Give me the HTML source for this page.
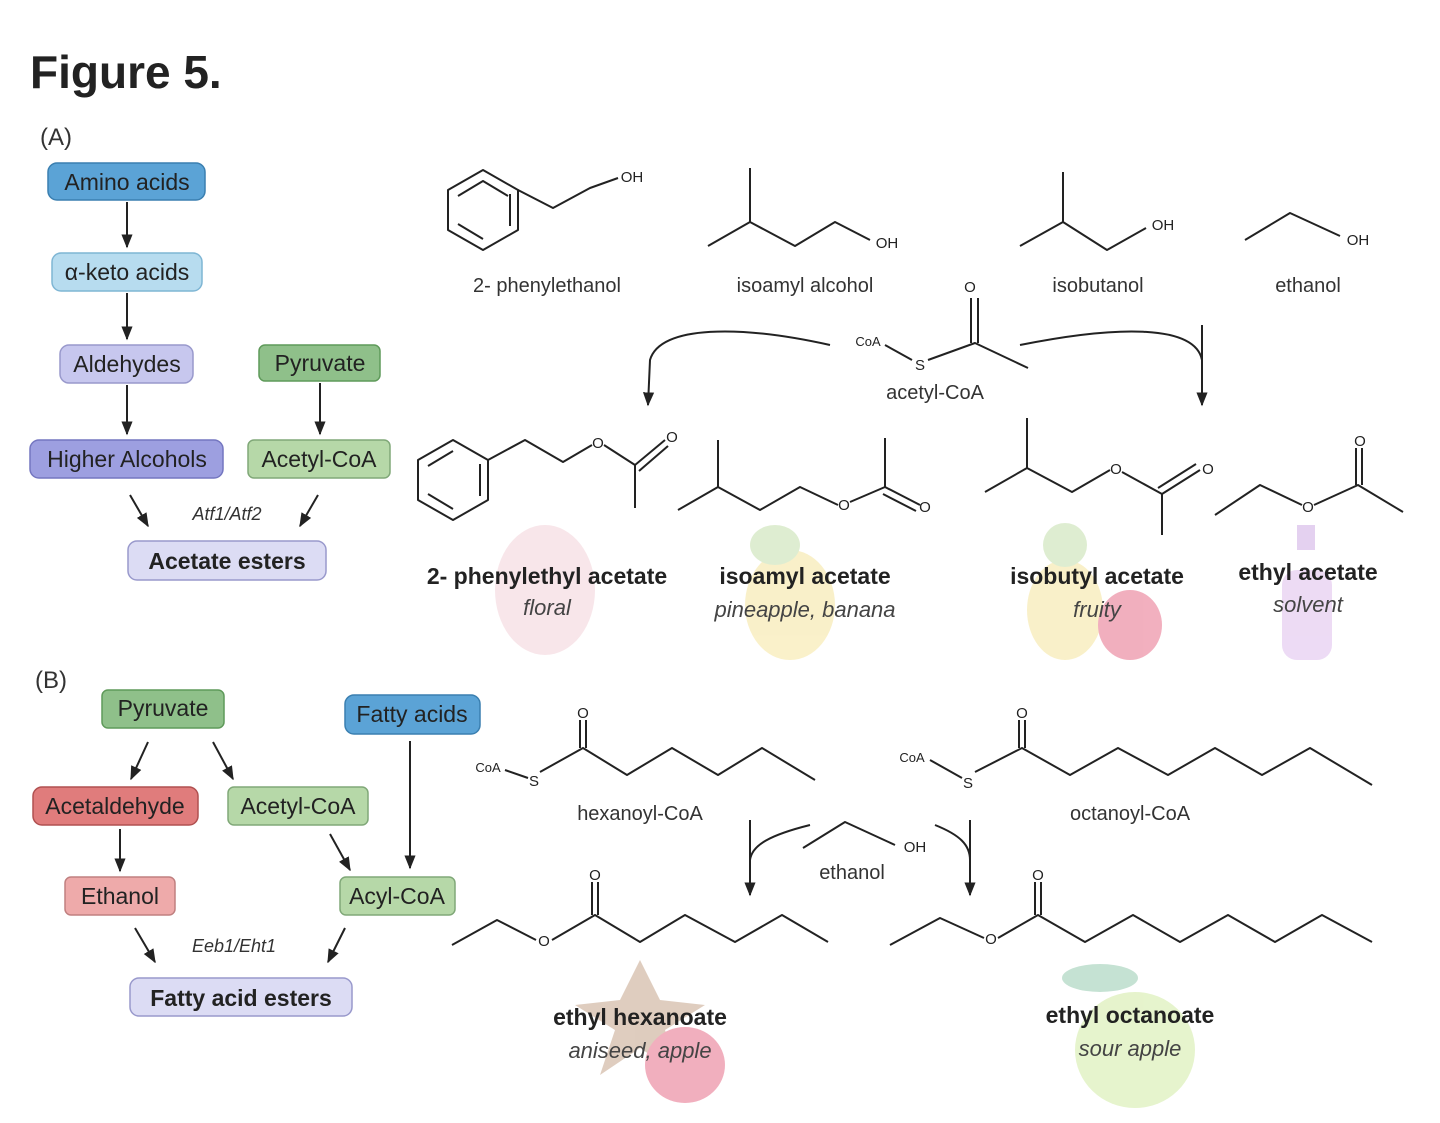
<!DOCTYPE html>
<html><head><meta charset="utf-8"><style>
html,body{margin:0;padding:0;background:#fff;}
svg{display:block;}
text{font-family:"Liberation Sans",sans-serif;}
</style></head><body>
<svg width="1440" height="1123" viewBox="0 0 1440 1123" xmlns="http://www.w3.org/2000/svg">
<defs>
<marker id="ah" viewBox="0 0 10 10" refX="9" refY="5" markerWidth="7" markerHeight="7" orient="auto"><path d="M0,1 L10,5 L0,9 z" fill="#222"/></marker>
</defs>
<text x="30" y="88" font-size="46" font-weight="bold" fill="#222">Figure 5.</text>
<text x="40" y="145" font-size="24" fill="#333">(A)</text>
<text x="35" y="688" font-size="24" fill="#333">(B)</text>

<!-- faint fruit images -->
<g opacity="0.45">
<ellipse cx="545" cy="590" rx="50" ry="65" fill="#f0c8d0"/>
<ellipse cx="790" cy="605" rx="45" ry="55" fill="#f3e08a"/>
<ellipse cx="775" cy="545" rx="25" ry="20" fill="#b8d89a"/>
<ellipse cx="1065" cy="610" rx="38" ry="50" fill="#f3e08a"/>
<ellipse cx="1065" cy="545" rx="22" ry="22" fill="#b8d89a"/>
<ellipse cx="1130" cy="625" rx="32" ry="35" fill="#e25070"/>
<rect x="1282" y="570" width="50" height="90" rx="15" fill="#d8b0e8"/>
<rect x="1297" y="525" width="18" height="25" fill="#c59ae0"/>
<polygon points="640,960 660,1000 705,1005 665,1030 680,1075 640,1048 600,1075 615,1030 575,1005 620,1000" fill="#b89070"/>
<ellipse cx="685" cy="1065" rx="40" ry="38" fill="#e25070"/>
<ellipse cx="1135" cy="1050" rx="60" ry="58" fill="#c8e690"/>
<ellipse cx="1100" cy="978" rx="38" ry="14" fill="#80c0a0"/>
</g>

<!-- A boxes -->
<g font-size="23" text-anchor="middle" stroke-width="1.5">
<rect x="48" y="163" width="157" height="37" rx="9" fill="#5ba3d6" stroke="#3a7fb0"/><text x="127" y="190" fill="#222">Amino acids</text>
<rect x="52" y="253" width="150" height="38" rx="9" fill="#b7dcef" stroke="#7fb6d4"/><text x="127" y="280" fill="#222">α-keto acids</text>
<rect x="60" y="345" width="133" height="38" rx="9" fill="#c7c7ee" stroke="#9999cc"/><text x="127" y="372" fill="#222">Aldehydes</text>
<rect x="259" y="345" width="121" height="36" rx="6" fill="#8fc08a" stroke="#5f9a5a"/><text x="320" y="371" fill="#222">Pyruvate</text>
<rect x="30" y="440" width="193" height="38" rx="9" fill="#9d9fe0" stroke="#7476c0"/><text x="127" y="467" fill="#222">Higher Alcohols</text>
<rect x="248" y="440" width="142" height="38" rx="6" fill="#b6d8a8" stroke="#80a878"/><text x="319" y="467" fill="#222">Acetyl-CoA</text>
<rect x="128" y="541" width="198" height="39" rx="9" fill="#dcdcf4" stroke="#9999cc"/><text x="227" y="569" font-weight="bold" fill="#222">Acetate esters</text>
</g>
<g stroke="#222" stroke-width="2" marker-end="url(#ah)" fill="none">
<line x1="127" y1="202" x2="127" y2="247"/>
<line x1="127" y1="293" x2="127" y2="339"/>
<line x1="127" y1="385" x2="127" y2="434"/>
<line x1="320" y1="383" x2="320" y2="434"/>
<line x1="130" y1="495" x2="148" y2="526"/>
<line x1="318" y1="495" x2="300" y2="526"/>
</g>
<text x="227" y="520" font-size="18" font-style="italic" text-anchor="middle" fill="#333">Atf1/Atf2</text>

<!-- B boxes -->
<g font-size="23" text-anchor="middle" stroke-width="1.5">
<rect x="102" y="690" width="122" height="38" rx="6" fill="#8fc08a" stroke="#5f9a5a"/><text x="163" y="716" fill="#222">Pyruvate</text>
<rect x="345" y="695" width="135" height="39" rx="9" fill="#5ba3d6" stroke="#3a7fb0"/><text x="412" y="722" fill="#222">Fatty acids</text>
<rect x="33" y="787" width="165" height="38" rx="9" fill="#e07c7c" stroke="#b05050"/><text x="115" y="814" fill="#222">Acetaldehyde</text>
<rect x="228" y="787" width="140" height="38" rx="6" fill="#b6d8a8" stroke="#80a878"/><text x="298" y="814" fill="#222">Acetyl-CoA</text>
<rect x="65" y="877" width="110" height="38" rx="6" fill="#eeaaaa" stroke="#c08080"/><text x="120" y="904" fill="#222">Ethanol</text>
<rect x="340" y="877" width="115" height="38" rx="6" fill="#b6d8a8" stroke="#80a878"/><text x="397" y="904" fill="#222">Acyl-CoA</text>
<rect x="130" y="978" width="222" height="38" rx="9" fill="#dcdcf4" stroke="#9999cc"/><text x="241" y="1006" font-weight="bold" fill="#222">Fatty acid esters</text>
</g>
<g stroke="#222" stroke-width="2" marker-end="url(#ah)" fill="none">
<line x1="148" y1="742" x2="131" y2="779"/>
<line x1="213" y1="742" x2="233" y2="779"/>
<line x1="120" y1="829" x2="120" y2="871"/>
<line x1="330" y1="834" x2="350" y2="870"/>
<line x1="410" y1="741" x2="410" y2="868"/>
<line x1="135" y1="928" x2="155" y2="962"/>
<line x1="345" y1="928" x2="328" y2="962"/>
</g>
<text x="234" y="952" font-size="18" font-style="italic" text-anchor="middle" fill="#333">Eeb1/Eht1</text>

<!-- structures -->
<g stroke="#222" stroke-width="2" fill="none" stroke-linejoin="round">
<!-- phenylethanol -->
<polygon points="483,170 518,190 518,230 483,250 448,230 448,190"/>
<polyline points="458,196 483,181 508,196" />
<line x1="458" y1="224" x2="483" y2="239"/><line x1="510" y1="194" x2="510" y2="226"/>
<polyline points="518,190 553,208 590,188 618,178"/>
<!-- isoamyl alcohol -->
<line x1="750" y1="168" x2="750" y2="222"/>
<polyline points="708,246 750,222 795,246 835,222 870,240"/>
<!-- isobutanol -->
<line x1="1063" y1="172" x2="1063" y2="222"/>
<polyline points="1020,246 1063,222 1107,250 1146,228"/>
<!-- ethanol -->
<polyline points="1245,240 1290,213 1340,236"/>
<!-- acetyl-CoA -->
<line x1="971" y1="298" x2="971" y2="343"/><line x1="978" y1="298" x2="978" y2="343"/>
<polyline points="885,345 912,360"/>
<polyline points="928,360 975,343 1028,368"/>
<!-- curved arrows A -->
<path d="M830,345 C740,325 660,325 650,360 L648,405" marker-end="url(#ah)"/>
<path d="M1020,345 C1120,325 1195,325 1202,360 L1202,405" marker-end="url(#ah)"/>
<line x1="1202" y1="325" x2="1202" y2="360"/>
<!-- phenylethyl acetate -->
<polygon points="453,440 488,460 488,500 453,520 418,500 418,460"/>
<line x1="428" y1="466" x2="453" y2="451"/><line x1="480" y1="464" x2="480" y2="496"/><line x1="428" y1="494" x2="453" y2="509"/>
<polyline points="488,460 525,440 563,462 592,445"/>
<polyline points="604,445 635,465 635,508"/>
<line x1="635" y1="465" x2="665" y2="440"/><line x1="639" y1="471" x2="668" y2="446"/>
<!-- isoamyl acetate -->
<line x1="718" y1="440" x2="718" y2="487"/>
<polyline points="678,510 718,487 760,510 800,487 838,505"/>
<polyline points="850,502 885,487 885,438"/>
<line x1="885" y1="487" x2="920" y2="505"/><line x1="883" y1="494" x2="916" y2="511"/>
<!-- isobutyl acetate -->
<line x1="1027" y1="418" x2="1027" y2="468"/>
<polyline points="985,492 1027,468 1072,492 1110,470"/>
<polyline points="1122,472 1162,494 1162,535"/>
<line x1="1162" y1="494" x2="1200" y2="470"/><line x1="1158" y1="488" x2="1196" y2="464"/>
<!-- ethyl acetate -->
<polyline points="1215,515 1260,485 1302,505"/>
<polyline points="1314,505 1358,485 1403,512"/>
<line x1="1356" y1="448" x2="1356" y2="485"/><line x1="1362" y1="448" x2="1362" y2="485"/>
<!-- hexanoyl-CoA -->
<polyline points="505,770 528,778"/>
<polyline points="540,772 583,748 627,775 672,748 718,775 762,748 815,780"/>
<line x1="580" y1="720" x2="580" y2="748"/><line x1="586" y1="720" x2="586" y2="748"/>
<!-- octanoyl-CoA -->
<polyline points="930,760 962,778"/>
<polyline points="975,772 1022,748 1070,775 1118,748 1168,775 1215,748 1262,775 1310,748 1372,785"/>
<line x1="1019" y1="720" x2="1019" y2="748"/><line x1="1025" y1="720" x2="1025" y2="748"/>
<!-- ethanol B -->
<polyline points="803,848 845,822 895,845"/>
<path d="M810,825 C770,835 752,845 750,860 L750,895" marker-end="url(#ah)"/>
<line x1="750" y1="820" x2="750" y2="860"/>
<path d="M935,825 C960,835 970,845 970,860 L970,895" marker-end="url(#ah)"/>
<line x1="970" y1="820" x2="970" y2="860"/>
<!-- ethyl hexanoate -->
<polyline points="452,945 497,920 536,940"/>
<polyline points="552,940 595,915 640,942 685,915 735,942 782,915 828,942"/>
<line x1="592" y1="882" x2="592" y2="915"/><line x1="598" y1="882" x2="598" y2="915"/>
<!-- ethyl octanoate -->
<polyline points="890,945 940,918 984,938"/>
<polyline points="998,938 1038,915 1085,942 1133,915 1180,942 1228,915 1275,942 1322,915 1372,942"/>
<line x1="1035" y1="882" x2="1035" y2="915"/><line x1="1041" y1="882" x2="1041" y2="915"/>
</g>
<!-- atom labels -->
<g font-size="15" fill="#222" text-anchor="middle">
<text x="632" y="182">OH</text><text x="887" y="248">OH</text><text x="1163" y="230">OH</text><text x="1358" y="245">OH</text>
<text x="970" y="292">O</text><text x="868" y="346" font-size="13">CoA</text><text x="920" y="370">S</text>
<text x="598" y="448">O</text><text x="672" y="442">O</text>
<text x="844" y="510">O</text><text x="925" y="512">O</text>
<text x="1116" y="474">O</text><text x="1208" y="474">O</text>
<text x="1308" y="512">O</text><text x="1360" y="446">O</text>
<text x="583" y="718">O</text><text x="488" y="772" font-size="13">CoA</text><text x="534" y="786">S</text>
<text x="1022" y="718">O</text><text x="912" y="762" font-size="13">CoA</text><text x="968" y="788">S</text>
<text x="915" y="852">OH</text>
<text x="544" y="946">O</text><text x="595" y="880">O</text>
<text x="991" y="944">O</text><text x="1038" y="880">O</text>
</g>
<g font-size="20" fill="#333" text-anchor="middle">
<text x="547" y="292">2- phenylethanol</text>
<text x="805" y="292">isoamyl alcohol</text>
<text x="1098" y="292">isobutanol</text>
<text x="1308" y="292">ethanol</text>
<text x="935" y="399">acetyl-CoA</text>
<text x="640" y="820">hexanoyl-CoA</text>
<text x="1130" y="820">octanoyl-CoA</text>
<text x="852" y="879">ethanol</text>
</g>
<g font-size="23" fill="#222" text-anchor="middle" font-weight="bold">
<text x="547" y="584">2- phenylethyl acetate</text>
<text x="805" y="584">isoamyl acetate</text>
<text x="1097" y="584">isobutyl acetate</text>
<text x="1308" y="580">ethyl acetate</text>
<text x="640" y="1025">ethyl hexanoate</text>
<text x="1130" y="1023">ethyl octanoate</text>
</g>
<g font-size="22" fill="#444" text-anchor="middle" font-style="italic">
<text x="547" y="615">floral</text>
<text x="805" y="617">pineapple, banana</text>
<text x="1097" y="617">fruity</text>
<text x="1308" y="612">solvent</text>
<text x="640" y="1058">aniseed, apple</text>
<text x="1130" y="1056">sour apple</text>
</g>
</svg>
</body></html>
